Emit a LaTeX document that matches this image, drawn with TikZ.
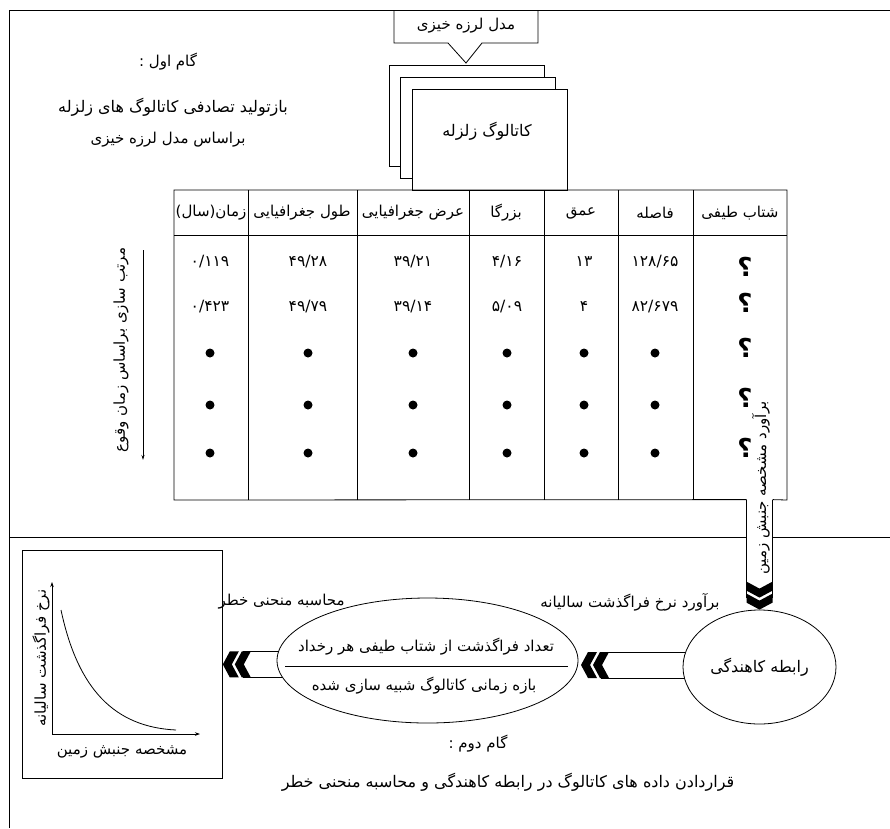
\documentclass[tikz,border=0pt]{standalone}
\usepackage{fontspec}
\newfontfamily\fa[Script=Arabic]{DejaVu Sans}
\TeXXeTstate=1
\usetikzlibrary{shapes.geometric, backgrounds, calc, arrows.meta}
\newcommand{\fat}[1]{\beginR #1\endR}

\tikzset{
  txt/.style = {inner sep=1pt, font=\fa\fontsize{15}{17}\selectfont},
  txtbig/.style = {inner sep=1pt, font=\fa\fontsize{16}{18}\selectfont},
  num/.style = {inner sep=1pt, font=\fa\fontsize{15.5}{17}\selectfont},
  catalog/.style = {draw, fill=white, anchor=north west, minimum width=155pt, minimum height=101pt},
  oval/.style = {draw, ellipse, fill=white, inner sep=0pt},
  blob/.style = {circle, fill, inner sep=0pt, minimum size=9pt},
  chevrons/.pic = {
    \fill (-13,-28) -- (0,-21) -- (13,-28) -- (13,-19) -- (0,-12) -- (-13,-19) -- cycle;
    \fill (-13,-16) -- (0,-9) -- (13,-16) -- (13,-7) -- (0,0) -- (-13,-7) -- cycle;
  }
}

\begin{document}
\begin{tikzpicture}[x=1pt, y=-1pt, line width=0.8pt]
\useasboundingbox (0,0) rectangle (890,828);
\draw (9,828) -- (9,10) -- (890,10);
\coordinate (divL) at (9,537);
\coordinate (divR) at (890,537);

% step one
\node[txt] (step1) at (168,62) {\fat{گام اول :}};
\node[txtbig] (step1a) at (173,107) {\fat{بازتولید تصادفی  کاتالوگ های زلزله}};
\node[txt] (step1b) at (168,140) {\fat{براساس مدل لرزه  خیزی}};

\node[txt] (model) at (466,26) {\fat{مدل لرزه خیزی}};
\draw (394,10) -- (394,43) -- (448,43) -- (466,63) -- (482,43) -- (538,43) -- (538,10);

\node[catalog] (cat1) at (389,65) {};
\node[catalog] (cat2) at (400,77) {};
\node[catalog] (cat3) at (412,89) {};
\node[txtbig] (catlbl) at (487,131) {\fat{کاتالوگ زلزله}};

% step two
\node[oval, minimum width=153pt, minimum height=114pt, txtbig] (atten) at (759.5,667) {\fat{رابطه کاهندگی}};
\node[oval, minimum width=301pt, minimum height=125pt] (rate) at (427.5,660.5) {};
\node[txt] (numer) at (426,647) {\fat{تعداد فراگذشت از شتاب طیفی هر رخداد}};
\node[txt] (denom) at (424,686) {\fat{بازه زمانی کاتالوگ شبیه سازی شده}};
\draw (285,666) -- (568,666);

\node[draw, minimum width=200pt, minimum height=228pt, anchor=north west] (plotbox) at (22,550) {};
\coordinate (orig) at (52,734);
\draw[-{Stealth[length=5pt, width=3.5pt]}] (orig) -- (52,582);
\draw[-{Stealth[length=5pt, width=3.5pt]}] (orig) -- (200,734);
\draw (61,610) .. controls (78,690) and (115,727) .. (176,730);
\node[txt, rotate=90] (ylbl) at (41,658) {\fat{نرخ فراگذشت سالیانه}};
\node[txt] (xlbl) at (122,752) {\fat{مشخصه جنبش زمین}};

\node[txt, anchor=east] (hazlbl) at (346,602) {\fat{محاسبه منحنی خطر}};
\node[txt, anchor=east] (ratelbl) at (721,602) {\fat{برآورد نرخ فراگذشت سالیانه}};
\node[txt] (step2) at (478,744) {\fat{گام دوم :}};
\node[txtbig] (step2a) at (508,782) {\fat{قراردادن داده های کاتالوگ در رابطه کاهندگی و محاسبه منحنی خطر}};

% table
\coordinate (stemL) at ($(atten.north)+(-13,-110)$);
\coordinate (stemR) at ($(atten.north)+(13,-110)$);
\draw (stemL) -- (174,500) -- (174,190) -- (787,190) -- (787,500) -- (stemR);
\draw (174,235) -- (787,235);
\foreach \x in {248,357,469,544,618,693}
  \draw (\x,190) -- (\x,500);
\foreach \x/\h [count=\i] in {211/{زمان(سال)}, 302/{طول جغرافیایی}, 413/{عرض جغرافیایی}, 506/{بزرگا}, 581/{عمق}, 655/{فاصله}, 740/{شتاب طیفی}}
  \node[txt] (head\i) at (\x,213) {\fat{\h}};
\foreach \x/\a/\b [count=\i] in {210/{۰/۱۱۹}/{۰/۴۲۳}, 308/{۴۹/۲۸}/{۴۹/۷۹}, 413/{۳۹/۲۱}/{۳۹/۱۴}, 507/{۴/۱۶}/{۵/۰۹}, 584/{۱۳}/{۴}, 655/{۱۲۸/۶۵}/{۸۲/۶۷۹}} {
  \node[num] (rowa\i) at (\x,262) {\a};
  \node[num] (rowb\i) at (\x,307) {\b};
  \foreach \y [count=\j] in {353,405,453}
    \node[blob] (dot\i\j) at (\x,\y) {};
}
\foreach \y [count=\j] in {267,303,348,398,448}
  \node[inner sep=0pt, font=\fa\bfseries\fontsize{26}{28}\selectfont] (ask\j) at (745,\y) {\fat{؟}};
\node[txt, rotate=90] (estim) at (761,488) {\fat{برآورد مشخصه جنبش زمین}};

\node[txt, rotate=90] (sortlbl) at (121,350) {\fat{مرتب سازی براساس زمان وقوع}};
\coordinate (sortA) at (143,250);
\coordinate (sortB) at (143,460);
\draw[-{Stealth[length=5pt, width=3pt]}] (sortA) -- (sortB);

\draw (divL) -- (stemL |- divL);
\draw (stemR |- divR) -- (divR);

\coordinate (tipL) at (plotbox.east);
\coordinate (tipR) at (581,665);
\begin{pgfonlayer}{background}
  \draw (stemL) -- ($(atten.north)+(-13,-12)$);
  \draw (stemR) -- ($(atten.north)+(13,-12)$);
  \draw ($(tipL)+(20,-13)$) -- ($(tipL -| rate.center)+(0,-13)$);
  \draw ($(tipL)+(20,13)$) -- ($(tipL -| rate.center)+(0,13)$);
  \draw ($(tipR)+(20,-13)$) -- ($(tipR -| atten.center)+(0,-13)$);
  \draw ($(tipR)+(20,13)$) -- ($(tipR -| atten.center)+(0,13)$);
\end{pgfonlayer}
\pic at (atten.north) {chevrons};
\pic[rotate=-90] at (tipL) {chevrons};
\pic[rotate=-90] at (tipR) {chevrons};
\end{tikzpicture}
\end{document}
